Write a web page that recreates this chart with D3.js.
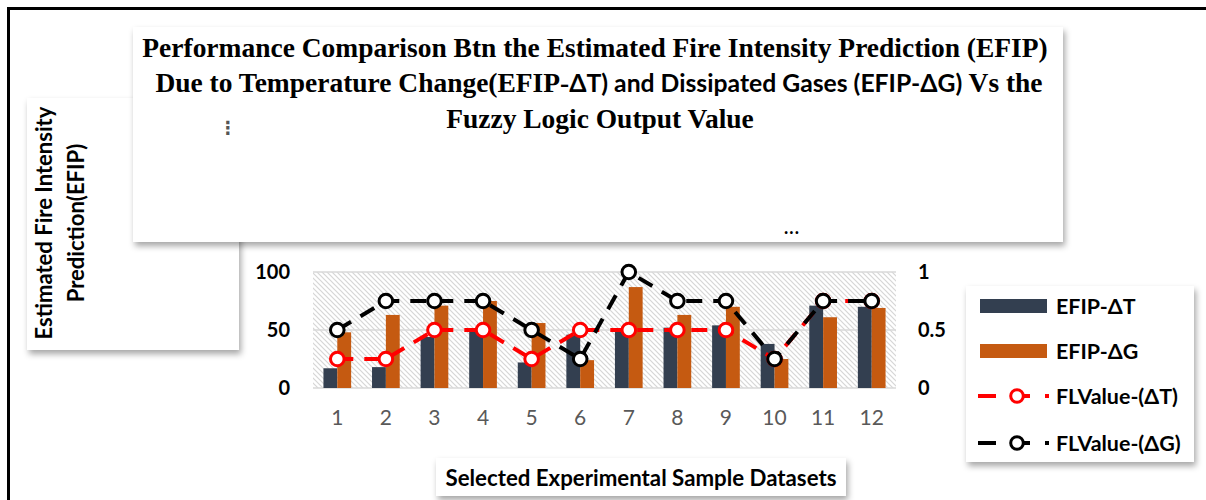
<!DOCTYPE html>
<html>
<head>
<meta charset="utf-8">
<script src="https://cdn.jsdelivr.net/npm/d3@7"></script>
<style>
  html, body { margin: 0; padding: 0; background: #fff; }
  svg { display: block; }
</style>
</head>
<body>
<svg id="chart" width="1206" height="500"></svg>
<script>
// Sample datasets and their predictions
const categories = ["1", "2", "3", "4", "5", "6", "7", "8", "9", "10", "11", "12"];
const efipDeltaT = [17, 18, 44, 50, 22, 46, 49, 52, 54, 38, 71, 70];
const efipDeltaG = [48, 63, 71, 75, 56, 24, 87, 63, 70, 25, 61, 69];
const flValueDeltaT = [0.25, 0.25, 0.5, 0.5, 0.25, 0.5, 0.5, 0.5, 0.5, 0.25, 0.75, 0.75];
const flValueDeltaG = [0.5, 0.75, 0.75, 0.75, 0.5, 0.25, 1, 0.75, 0.75, 0.25, 0.75, 0.75];
const leftTicks = [0, 50, 100];
const rightTicks = [0, 0.5, 1];
const barSeries = ["EFIP-ΔT", "EFIP-ΔG"];
const lineSeries = ["FLValue-(ΔT)", "FLValue-(ΔG)"];

const colors = {
  "EFIP-ΔT": "#333f50",
  "EFIP-ΔG": "#c55a11",
  "FLValue-(ΔT)": "#ff0000",
  "FLValue-(ΔG)": "#000000"
};

const svg = d3.select("#chart");
const defs = svg.append("defs");

// soft shadow for the floating text boxes
const shadow = defs.append("filter").attr("id", "shadow")
  .attr("x", "-10%").attr("y", "-10%").attr("width", "130%").attr("height", "140%");
shadow.append("feDropShadow").attr("dx", 2).attr("dy", 4).attr("stdDeviation", 3)
  .attr("flood-color", "#000").attr("flood-opacity", 0.35);

// diagonal hatch for the plot area
const hatch = defs.append("pattern").attr("id", "hatch")
  .attr("patternUnits", "userSpaceOnUse").attr("width", 5).attr("height", 5);
hatch.append("rect").attr("width", 5).attr("height", 5).attr("fill", "#fff");
hatch.append("path").attr("d", "M0,0 L5,5 M-1,4 L1,6 M4,-1 L6,1")
  .attr("stroke", "#d6d6d6").attr("stroke-width", 1.2);

svg.append("rect").attr("width", 1206).attr("height", 500).attr("fill", "#fff");

// outer frame
svg.append("rect").attr("x", 8.5).attr("y", 8.5).attr("width", 1300).attr("height", 600)
  .attr("fill", "none").attr("stroke", "#000").attr("stroke-width", 3);

function fitWidth(sel, target) {
  const w = sel.node().getComputedTextLength();
  const fs = parseFloat(sel.attr("font-size"));
  const nfs = fs * target / w;
  sel.attr("font-size", nfs);
  return nfs;
}

// ---- y-axis title box
svg.append("rect").attr("x", 27).attr("y", 98).attr("width", 212).attr("height", 252)
  .attr("fill", "#fff").attr("filter", "url(#shadow)");
const yl1 = svg.append("text")
  .attr("transform", "translate(52,223) rotate(-90)")
  .attr("text-anchor", "middle")
  .attr("font-family", "Lato, 'Open Sans', sans-serif").attr("font-weight", 700)
  .attr("font-size", 20).attr("fill", "#000")
  .text("Estimated Fire Intensity");
const ylSize = fitWidth(yl1, 233);
svg.append("text")
  .attr("transform", "translate(84,223) rotate(-90)")
  .attr("text-anchor", "middle")
  .attr("font-family", "Lato, 'Open Sans', sans-serif").attr("font-weight", 700)
  .attr("font-size", ylSize).attr("fill", "#000")
  .text("Prediction(EFIP)");

// ---- title box
svg.append("rect").attr("x", 133).attr("y", 27).attr("width", 930).attr("height", 215)
  .attr("fill", "#fff").attr("filter", "url(#shadow)");

const serif = "'Liberation Serif', 'DejaVu Serif', serif";
const sans = "Lato, 'Open Sans', sans-serif";
const t1 = svg.append("text").attr("x", 595).attr("y", 57)
  .attr("text-anchor", "middle").attr("font-family", serif).attr("font-weight", 700)
  .attr("font-size", 24).attr("fill", "#000")
  .text("Performance Comparison Btn the Estimated Fire Intensity Prediction (EFIP)");
const tSize = fitWidth(t1, 906);

const t2 = svg.append("text").attr("x", 599).attr("y", 92)
  .attr("text-anchor", "middle").attr("font-weight", 700)
  .attr("font-size", tSize).attr("fill", "#000");
t2.append("tspan").attr("font-family", serif).text("Due to Temperature Change(EFIP-");
t2.append("tspan").attr("font-family", sans).attr("font-size", tSize * 0.9)
  .text("ΔT) and Dissipated Gases (EFIP-ΔG)");
t2.append("tspan").attr("font-family", serif).text(" Vs the");

svg.append("text").attr("x", 600).attr("y", 128)
  .attr("text-anchor", "middle").attr("font-family", serif).attr("font-weight", 700)
  .attr("font-size", tSize).attr("fill", "#000")
  .text("Fuzzy Logic Output Value");

svg.append("text").attr("x", 228).attr("y", 128)
  .attr("text-anchor", "middle").attr("font-family", "'DejaVu Sans', sans-serif")
  .attr("font-weight", 700).attr("font-size", 18).attr("fill", "#555").attr("dy", "0.35em")
  .text("⋮");
svg.append("text").attr("x", 792).attr("y", 234)
  .attr("text-anchor", "middle").attr("font-family", sans).attr("font-weight", 700)
  .attr("font-size", 18).attr("letter-spacing", 1).attr("fill", "#000")
  .text("...");

// ---- plot
const plot = { left: 313, right: 896, top: 272, bottom: 388 };

const x0 = d3.scaleBand().domain(categories)
  .range([plot.left, plot.right]).paddingInner(0.43).paddingOuter(0.215);
const x1 = d3.scaleBand().domain(barSeries).range([0, x0.bandwidth()]);
const yLeft = d3.scaleLinear().domain([0, 100]).range([plot.bottom, plot.top]);
const yRight = d3.scaleLinear().domain([0, 1]).range([plot.bottom, plot.top]);

svg.append("rect").attr("x", plot.left).attr("y", plot.top)
  .attr("width", plot.right - plot.left).attr("height", plot.bottom - plot.top)
  .attr("fill", "url(#hatch)");

// gridlines
svg.append("g").selectAll("line").data(leftTicks).join("line")
  .attr("x1", plot.left).attr("x2", plot.right)
  .attr("y1", d => yLeft(d)).attr("y2", d => yLeft(d))
  .attr("stroke", "#d9d9d9").attr("stroke-width", 1.5);

// left axis labels
const leftAxis = svg.append("g").attr("transform", `translate(${plot.left - 23},0)`)
  .call(d3.axisLeft(yLeft).tickValues(leftTicks).tickSize(0).tickPadding(0));
leftAxis.select(".domain").remove();
leftAxis.selectAll("text").attr("font-family", sans).attr("font-weight", 700)
  .attr("font-size", 20).attr("fill", "#000");

// right axis labels
const rightAxis = svg.append("g").attr("transform", `translate(${plot.right + 22},0)`)
  .call(d3.axisRight(yRight).tickValues(rightTicks).tickSize(0).tickPadding(0)
    .tickFormat(d => String(d)));
rightAxis.select(".domain").remove();
rightAxis.selectAll("text").attr("font-family", sans).attr("font-weight", 700)
  .attr("font-size", 20).attr("fill", "#000");

// category axis labels
const bottomAxis = svg.append("g").attr("transform", `translate(0,${plot.bottom + 30})`)
  .call(d3.axisBottom(x0).tickSize(0).tickPadding(0));
bottomAxis.select(".domain").remove();
bottomAxis.selectAll("text").attr("font-family", sans).attr("font-weight", 400)
  .attr("font-size", 21).attr("fill", "#595959").attr("dy", "0.35em");

// bars
const barData = categories.map((c, i) => ({ c, vals: [
  { s: barSeries[0], v: efipDeltaT[i] },
  { s: barSeries[1], v: efipDeltaG[i] }
] }));
svg.append("g").selectAll("g").data(barData).join("g")
  .attr("transform", d => `translate(${x0(d.c)},0)`)
  .selectAll("rect").data(d => d.vals).join("rect")
  .attr("x", d => x1(d.s)).attr("width", x1.bandwidth())
  .attr("y", d => yLeft(d.v)).attr("height", d => yLeft(0) - yLeft(d.v))
  .attr("fill", d => colors[d.s]);

// fuzzy logic lines with markers
const cx = c => x0(c) + x0.bandwidth() / 2;
const lineGen = d3.line().x(d => cx(d.c)).y(d => yRight(d.v));
[[lineSeries[0], flValueDeltaT], [lineSeries[1], flValueDeltaG]].forEach(([name, vals]) => {
  const pts = categories.map((c, i) => ({ c, v: vals[i] }));
  const g = svg.append("g");
  g.append("path").datum(pts).attr("d", lineGen)
    .attr("fill", "none").attr("stroke", colors[name]).attr("stroke-width", 4)
    .attr("stroke-dasharray", "16,11").attr("stroke-linejoin", "round");
  g.selectAll("circle").data(pts).join("circle")
    .attr("cx", d => cx(d.c)).attr("cy", d => yRight(d.v)).attr("r", 6.8)
    .attr("fill", "#fff").attr("stroke", colors[name]).attr("stroke-width", 3);
});

// ---- x-axis title box
svg.append("rect").attr("x", 436).attr("y", 458).attr("width", 410).attr("height", 38)
  .attr("fill", "#fff").attr("filter", "url(#shadow)");
const xl = svg.append("text").attr("x", 641).attr("y", 478).attr("dy", "0.35em")
  .attr("text-anchor", "middle").attr("font-family", sans).attr("font-weight", 700)
  .attr("font-size", 20).attr("fill", "#000")
  .text("Selected Experimental Sample Datasets");
fitWidth(xl, 391);

// ---- legend
svg.append("rect").attr("x", 966).attr("y", 286).attr("width", 228).attr("height", 176)
  .attr("fill", "#fff").attr("filter", "url(#shadow)");
const legendRows = [306, 351, 396, 443];
const legend = svg.append("g");
barSeries.forEach((s, i) => {
  legend.append("rect").attr("x", 980).attr("y", legendRows[i] - 7)
    .attr("width", 67).attr("height", 14).attr("fill", colors[s]);
});
lineSeries.forEach((s, i) => {
  const y = legendRows[i + 2];
  legend.append("line").attr("x1", 978).attr("x2", 1050).attr("y1", y).attr("y2", y)
    .attr("stroke", colors[s]).attr("stroke-width", 4)
    .attr("stroke-dasharray", "18,14,20,15,4,100");
  legend.append("circle").attr("cx", 1017).attr("cy", y).attr("r", 6.3)
    .attr("fill", "#fff").attr("stroke", colors[s]).attr("stroke-width", 3);
});
const legendTexts = legend.selectAll("text").data(barSeries.concat(lineSeries)).join("text")
  .attr("x", 1056).attr("y", (d, i) => legendRows[i]).attr("dy", "0.35em")
  .attr("font-family", sans).attr("font-weight", 700).attr("font-size", 20)
  .attr("fill", "#000").text(d => d);
const ls = fitWidth(d3.select(legendTexts.nodes()[2]), 122);
legendTexts.attr("font-size", ls);
</script>
</body>
</html>
